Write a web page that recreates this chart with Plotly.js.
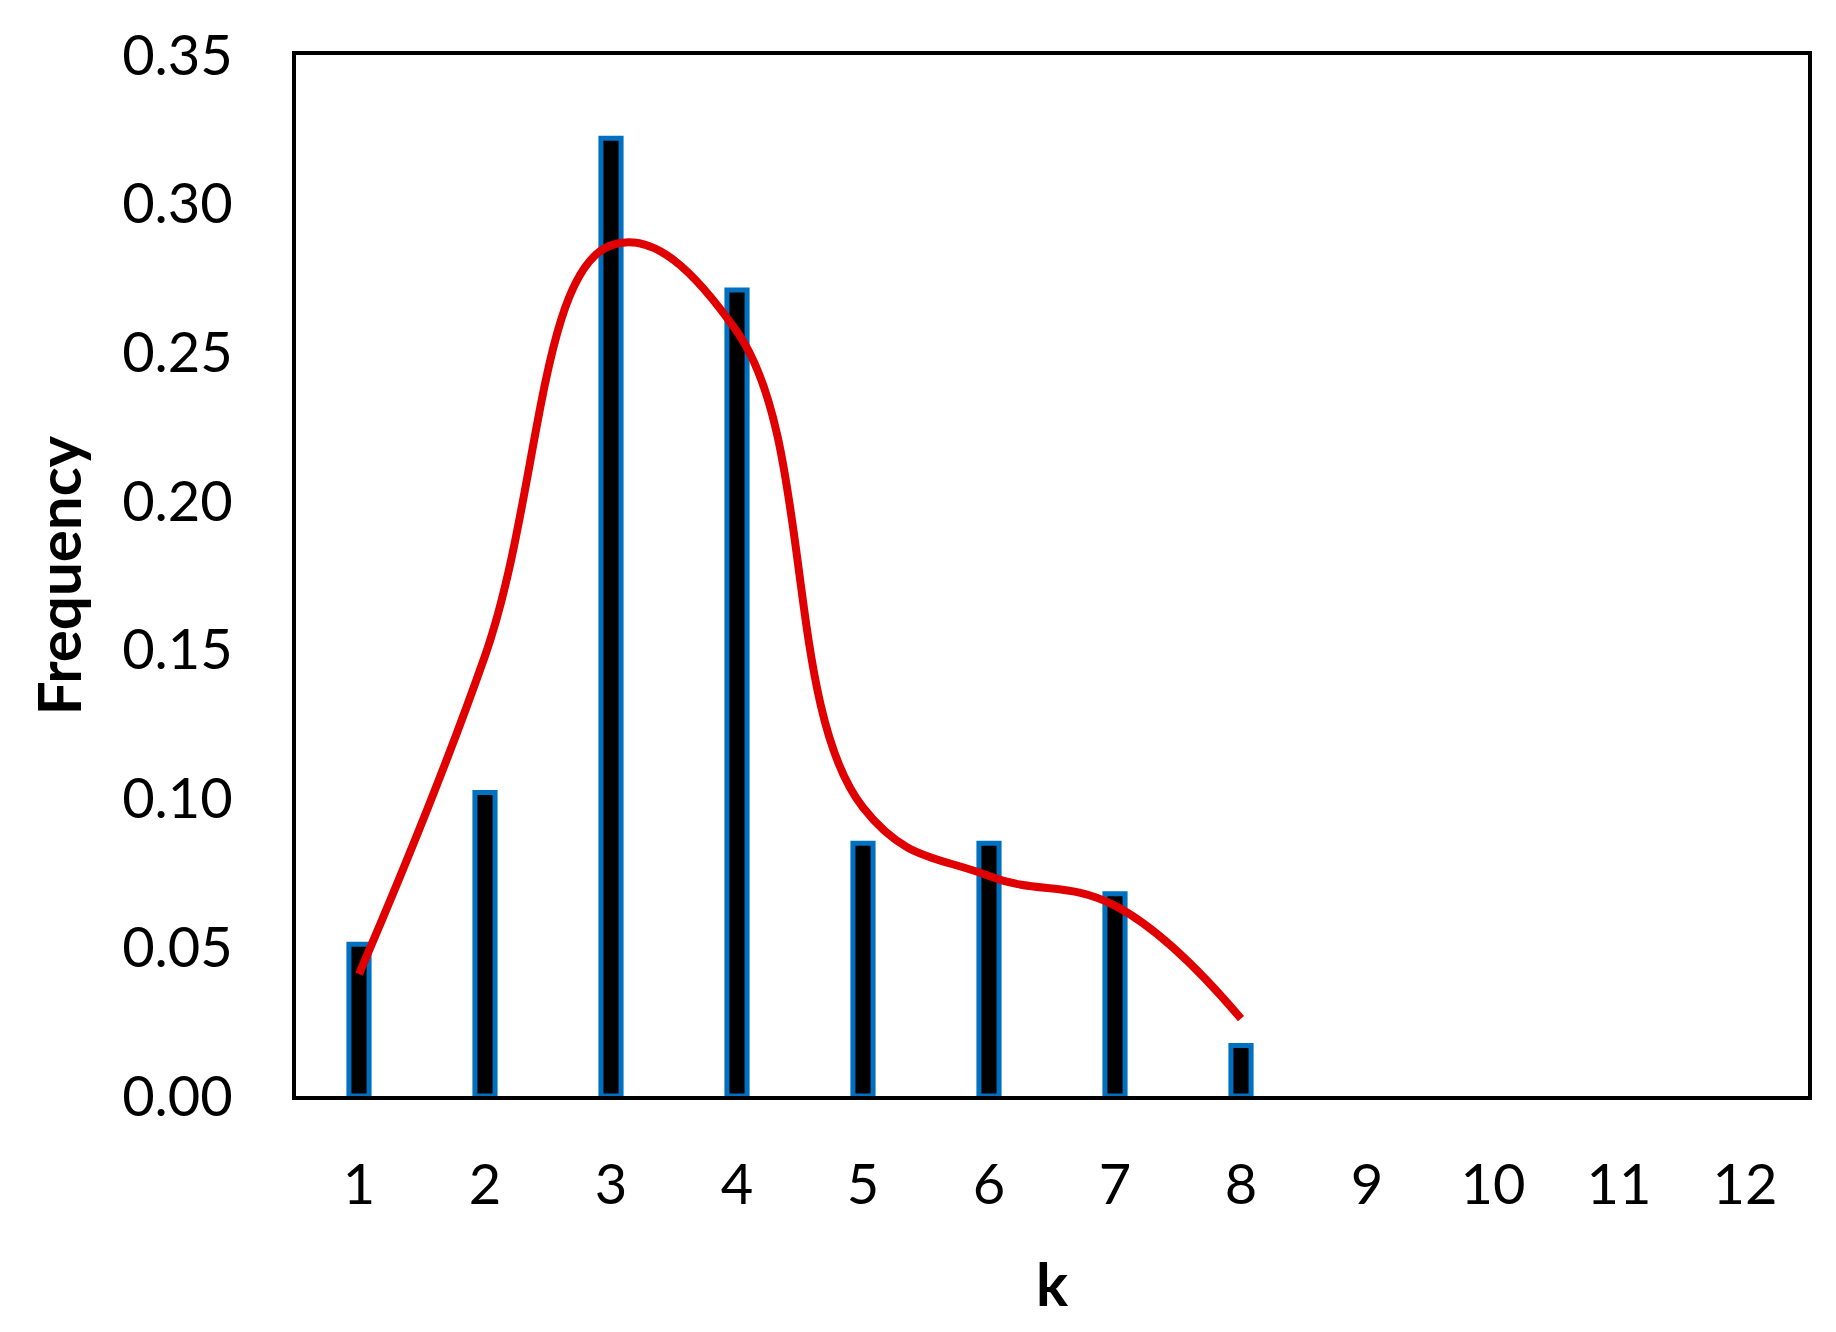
<!DOCTYPE html>
<html>
<head>
<meta charset="utf-8">
<script src="https://cdn.plot.ly/plotly-3.0.1.min.js"></script>
<style>html,body{margin:0;padding:0;background:#fff;}#chart{width:1836px;height:1332px;}</style>
</head>
<body>
<div id="chart"></div>
<script>
// Categories (k values shown on the x axis)
const kTicks = [1, 2, 3, 4, 5, 6, 7, 8, 9, 10, 11, 12];
// Observed frequency per k (bars)
const kBars = [1, 2, 3, 4, 5, 6, 7, 8];
const frequency = [0.051, 0.102, 0.322, 0.271, 0.085, 0.085, 0.068, 0.017];
// Fitted curve (red smooth line)
const fitK = [1, 2, 3, 4, 5, 6, 7, 8];
const fitFrequency = [0.041, 0.148, 0.286, 0.257, 0.097, 0.074, 0.064, 0.026];
// Y tick labels
const yTickVals = [0, 0.05, 0.10, 0.15, 0.20, 0.25, 0.30, 0.35];
const yTickText = ['0.00', '0.05', '0.10', '0.15', '0.20', '0.25', '0.30', '0.35'];

const tickFont = {family: 'Lato, "Open Sans", sans-serif', size: 56, color: '#000'};
const titleFont = {family: 'Lato, "Open Sans", sans-serif', size: 60, color: '#000', weight: 'bold'};

const traces = [
  {
    type: 'bar',
    x: kBars,
    y: frequency,
    width: 0.16,
    marker: {color: '#000000', line: {color: '#0070C0', width: 5}},
    hoverinfo: 'x+y',
    showlegend: false
  },
  {
    type: 'scatter',
    mode: 'lines',
    x: fitK,
    y: fitFrequency,
    line: {color: '#E00000', width: 8, shape: 'spline', smoothing: 1.2},
    showlegend: false
  }
];

const layout = {
  width: 1836,
  height: 1332,
  paper_bgcolor: '#ffffff',
  plot_bgcolor: '#ffffff',
  margin: {l: 296, r: 28, t: 55, b: 236, pad: 0},
  showlegend: false,
  xaxis: {
    range: [0.5, 12.5],
    tickmode: 'array',
    tickvals: kTicks,
    ticktext: kTicks.map(String),
    ticks: '',
    ticklabelstandoff: 37,
    showgrid: false,
    zeroline: false,
    showline: true,
    linecolor: '#000',
    linewidth: 4,
    mirror: true,
    tickfont: tickFont,
    title: {text: 'k', font: titleFont, standoff: 50},
    automargin: false
  },
  yaxis: {
    range: [0, 0.35],
    tickmode: 'array',
    tickvals: yTickVals,
    ticktext: yTickText,
    ticks: '',
    ticklabelstandoff: 48,
    showgrid: false,
    zeroline: false,
    showline: true,
    linecolor: '#000',
    linewidth: 4,
    mirror: true,
    tickfont: tickFont,
    title: {text: 'Frequency', font: titleFont, standoff: 22},
    automargin: false
  }
};

Plotly.newPlot('chart', traces, layout, {displayModeBar: false, staticPlot: true});
</script>
</body>
</html>
